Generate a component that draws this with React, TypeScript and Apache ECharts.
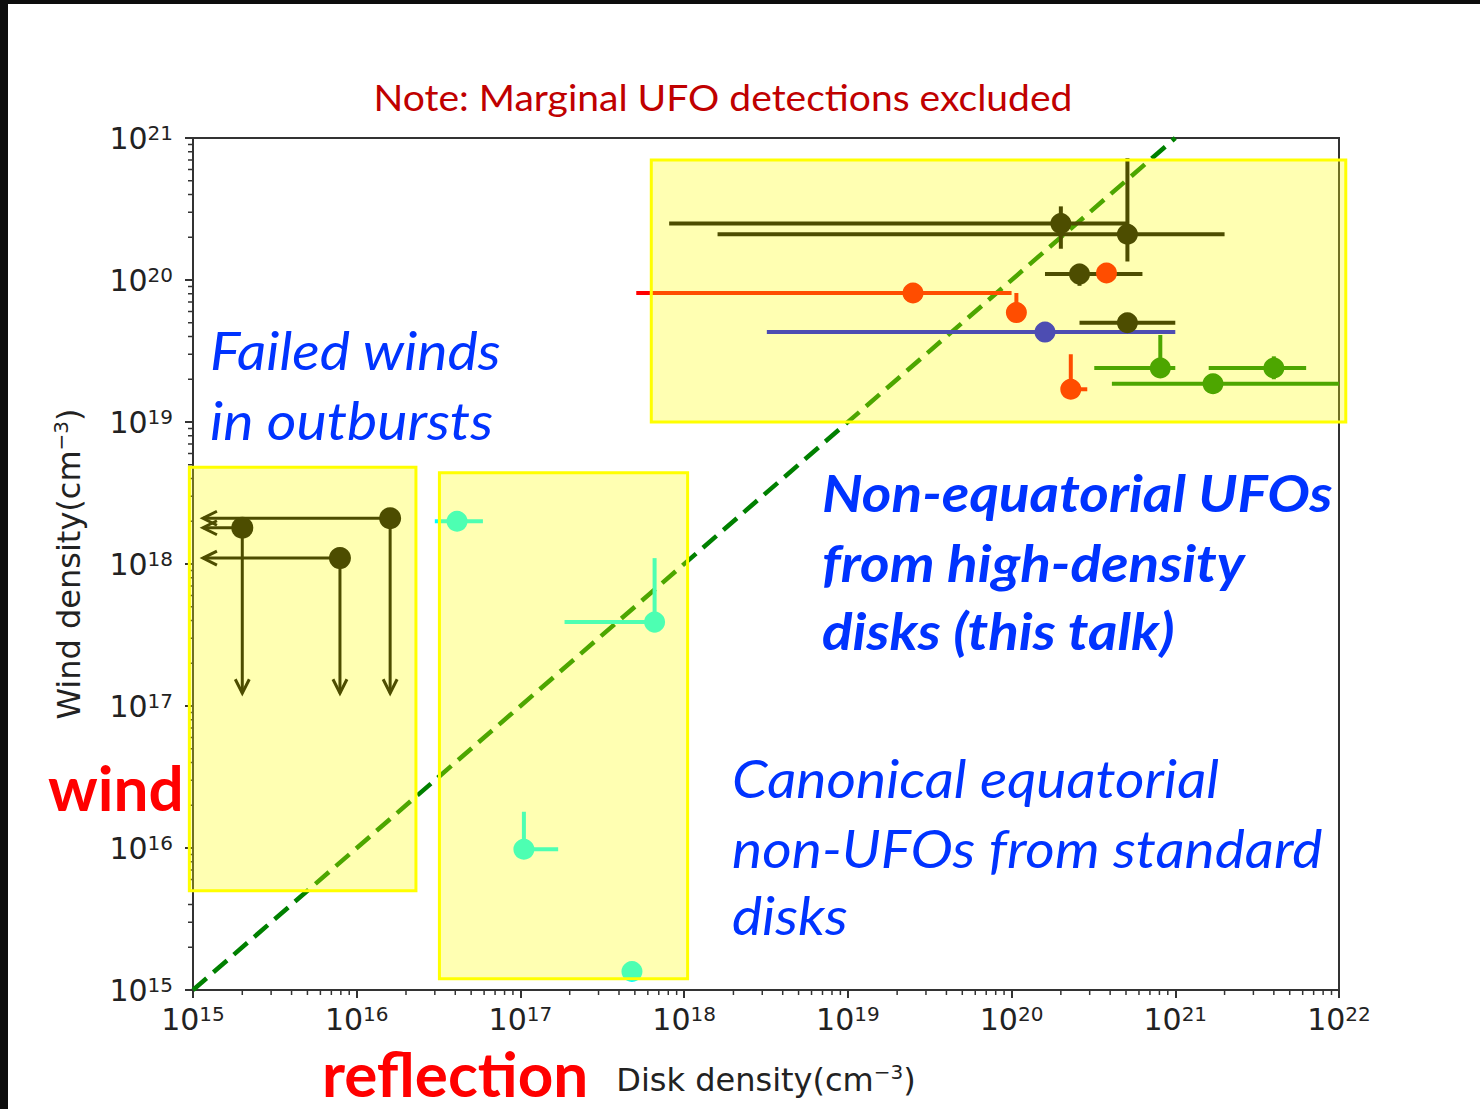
import { useEffect, useRef } from "react";
import * as echarts from "echarts";

// Each measurement: [x, y, xLow, xHigh, yLow, yHigh]  (cm^-3)
const BLACK_PTS = [
  [2.0e20, 2.5e20, 8.1e17, 5.1e20, 1.66e20, 3.3e20],
  [5.1e20, 2.1e20, 1.6e18, 2.0e21, 1.35e20, 7.2e20],
  [2.6e20, 1.1e20, 1.6e20, 6.3e20, 9.1e19, 1.3e20],
  [5.1e20, 5.0e19, 2.6e20, 1.0e21, 5.0e19, 5.0e19],
];
const RED_PTS = [
  [3.8e20, 1.12e20, 3.8e20, 3.8e20, 1.12e20, 1.12e20],
  [2.5e19, 8.1e19, 5.1e17, 1.0e20, 8.1e19, 8.1e19],
  [1.07e20, 5.9e19, 1.07e20, 1.07e20, 5.9e19, 8.1e19],
  [2.3e20, 1.7e19, 2.3e20, 2.9e20, 1.7e19, 3.0e19],
];
const BLUE_PTS = [[1.6e20, 4.3e19, 3.2e18, 1.0e21, 4.3e19, 4.3e19]];
const GREEN_PTS = [
  [8.1e20, 2.4e19, 3.2e20, 1.0e21, 2.4e19, 4.1e19],
  [4.0e21, 2.4e19, 1.6e21, 6.3e21, 2.0e19, 2.9e19],
  [1.7e21, 1.86e19, 4.1e20, 1.0e22, 1.86e19, 1.86e19],
];
const CYAN_PTS = [
  [4.1e16, 2.0e18, 3.0e16, 5.9e16, 2.0e18, 2.0e18],
  [6.6e17, 3.9e17, 1.86e17, 6.6e17, 3.3e17, 1.1e18],
  [1.05e17, 9.8e15, 1.05e17, 1.7e17, 9.8e15, 1.8e16],
  [4.8e17, 1.35e15, 4.8e17, 4.8e17, 1.35e15, 1.35e15],
];
// Upper limits (failed winds): [x, y, xArrowEnd, yArrowEnd]
const LIMIT_PTS = [
  [2.0e15, 1.8e18, 1.15e15, 1.23e17],
  [1.6e16, 2.1e18, 1.15e15, 1.23e17],
  [7.9e15, 1.1e18, 1.15e15, 1.23e17],
];
// Highlighted regions: [xMin, xMax, yMin, yMax]
const REGIONS = [
  [6.3e17, 1.1e22, 1.0e19, 7.0e20],
  [9.5e14, 2.3e16, 5.0e15, 4.8e18],
  [3.2e16, 1.05e18, 1.2e15, 4.4e18],
];
// Wind density = disk density
const EQUALITY = [
  [1e15, 1e15],
  [1e21, 1e21],
];

const X_DECADES = [15, 16, 17, 18, 19, 20, 21];
const Y_DECADES = [15, 16, 17, 18, 19, 20];
const MINOR_MULTS = [2, 3, 4, 5, 6, 7, 8, 9];

const BLUE = "#0033ff";
const RED = "#ff0000";
const TICK_FONT = "DejaVu Sans";
const NOTE_FONT = "Lato";

const minorTicks = (decades: number[]) => {
  const out: number[] = [];
  decades.forEach((d) => MINOR_MULTS.forEach((m) => out.push(m * Math.pow(10, d))));
  return out;
};

const tickLabel = (v: number) => `{b|10}{s|${Math.round(Math.log10(v))}}`;
const tickRich = {
  b: { fontFamily: TICK_FONT, fontSize: 30, color: "#222", lineHeight: 30 },
  s: { fontFamily: TICK_FONT, fontSize: 20, color: "#222", lineHeight: 12, verticalAlign: "top" },
};
const titleRich = {
  n: { fontFamily: TICK_FONT, fontSize: 32, color: "#222", lineHeight: 36 },
  s: { fontFamily: TICK_FONT, fontSize: 20, color: "#222", lineHeight: 18, verticalAlign: "top" },
};

function errorBars(color: string, width: number) {
  return (_p: any, api: any) => {
    const x = api.value(0), y = api.value(1);
    const children: any[] = [];
    const a = api.coord([api.value(2), y]);
    const b = api.coord([api.value(3), y]);
    if (Math.abs(a[0] - b[0]) > 0.5)
      children.push({ type: "line", shape: { x1: a[0], y1: a[1], x2: b[0], y2: b[1] }, style: { stroke: color, lineWidth: width } });
    const c = api.coord([x, api.value(4)]);
    const d = api.coord([x, api.value(5)]);
    if (Math.abs(c[1] - d[1]) > 0.5)
      children.push({ type: "line", shape: { x1: c[0], y1: c[1], x2: d[0], y2: d[1] }, style: { stroke: color, lineWidth: width } });
    return { type: "group", children };
  };
}

function limitArrows(_p: any, api: any) {
  const p = api.coord([api.value(0), api.value(1)]);
  const l = api.coord([api.value(2), api.value(1)]);
  const dn = api.coord([api.value(0), api.value(3)]);
  const st = { stroke: "#000", lineWidth: 3, fill: "none" };
  return {
    type: "group",
    children: [
      { type: "line", shape: { x1: p[0], y1: p[1], x2: l[0], y2: l[1] }, style: st },
      { type: "polyline", shape: { points: [[l[0] + 14, l[1] - 7], [l[0], l[1]], [l[0] + 14, l[1] + 7]] }, style: st },
      { type: "line", shape: { x1: p[0], y1: p[1], x2: dn[0], y2: dn[1] }, style: st },
      { type: "polyline", shape: { points: [[dn[0] - 7, dn[1] - 14], [dn[0], dn[1]], [dn[0] + 7, dn[1] - 14]] }, style: st },
    ],
  };
}

function regionBox(_p: any, api: any) {
  const tl = api.coord([api.value(0), api.value(3)]);
  const br = api.coord([api.value(1), api.value(2)]);
  return {
    type: "rect",
    shape: { x: tl[0], y: tl[1], width: br[0] - tl[0], height: br[1] - tl[1] },
    style: { fill: "rgba(255,255,0,0.3)", stroke: "#ffff00", lineWidth: 3 },
  };
}

function minorTick(isX: boolean) {
  return (_p: any, api: any) => {
    const p = api.coord([api.value(0), api.value(1)]);
    const shape = isX
      ? { x1: p[0], y1: p[1], x2: p[0], y2: p[1] + 5 }
      : { x1: p[0], y1: p[1], x2: p[0] - 5, y2: p[1] };
    return { type: "line", shape, style: { stroke: "#333", lineWidth: 1.5 } };
  };
}

function pointSeries(name: string, data: number[][], color: string, width: number, z = 3) {
  return [
    {
      name: name + "-err",
      type: "custom",
      renderItem: errorBars(color, width),
      data,
      encode: { x: 0, y: 1 },
      clip: false,
      z,
    },
    {
      name,
      type: "scatter",
      data: data.map((d) => [d[0], d[1]]),
      symbol: "circle",
      symbolSize: 21,
      itemStyle: { color, opacity: 1 },
      z: z + 1,
    },
  ];
}

const textEl = (x: number, y: number, text: string, font: any, fill: string, align = "left", scaleX = 1) => ({
  type: "text",
  x,
  y,
  scaleX,
  z: 50,
  style: { text, fill, align, verticalAlign: "middle", ...font },
});

export default function App() {
  const ref = useRef<HTMLDivElement>(null);

  useEffect(() => {
    if (!ref.current) return;
    const chart = echarts.init(ref.current, undefined, { renderer: "svg" });

    const noteItalic = { fontFamily: NOTE_FONT, fontStyle: "italic", fontSize: 52 };
    const noteBoldItalic = { fontFamily: NOTE_FONT, fontStyle: "italic", fontWeight: "bold", fontSize: 52 };
    const redBold = { fontFamily: NOTE_FONT, fontWeight: "bold", fontSize: 62 };

    chart.setOption({
      animation: false,
      backgroundColor: "#ffffff",
      grid: {
        left: 193,
        top: 138,
        width: 1146,
        height: 852,
        show: true,
        borderColor: "#333",
        borderWidth: 2,
        backgroundColor: "transparent",
      },
      xAxis: {
        type: "log",
        logBase: 10,
        min: 1e15,
        max: 1e22,
        splitNumber: 7,
        splitLine: { show: false },
        axisLine: { lineStyle: { color: "#333", width: 2 } },
        axisTick: { show: true, inside: false, length: 8, lineStyle: { color: "#333", width: 2 } },
        axisLabel: { formatter: tickLabel, rich: tickRich, margin: 14 },
        name: "{n|Disk density(cm}{s|−3}{n|)}",
        nameLocation: "middle",
        nameGap: 72,
        nameTextStyle: { rich: titleRich },
      },
      yAxis: {
        type: "log",
        logBase: 10,
        min: 1e15,
        max: 1e21,
        splitNumber: 6,
        splitLine: { show: false },
        axisLine: { lineStyle: { color: "#333", width: 2 } },
        axisTick: { show: true, inside: false, length: 8, lineStyle: { color: "#333", width: 2 } },
        axisLabel: { formatter: tickLabel, rich: tickRich, margin: 20 },
        name: "{n|Wind density(cm}{s|−3}{n|)}",
        nameLocation: "middle",
        nameRotate: 90,
        nameGap: 106,
        nameTextStyle: { rich: titleRich },
      },
      series: [
        {
          type: "custom",
          renderItem: minorTick(true),
          data: minorTicks(X_DECADES).map((v) => [v, 1e15]),
          encode: { x: 0, y: 1 },
          clip: false,
          silent: true,
          z: 1,
        },
        {
          type: "custom",
          renderItem: minorTick(false),
          data: minorTicks(Y_DECADES).map((v) => [1e15, v]),
          encode: { x: 0, y: 1 },
          clip: false,
          silent: true,
          z: 1,
        },
        {
          type: "line",
          data: EQUALITY,
          symbol: "none",
          lineStyle: { color: "#008000", width: 4.5, type: [18, 9] },
          z: 2,
        },
        {
          type: "custom",
          renderItem: limitArrows,
          data: LIMIT_PTS,
          encode: { x: 0, y: 1 },
          clip: false,
          z: 3,
        },
        {
          type: "scatter",
          data: LIMIT_PTS.map((d) => [d[0], d[1]]),
          symbolSize: 22,
          itemStyle: { color: "#000", opacity: 1 },
          z: 4,
        },
        ...pointSeries("red", RED_PTS, RED, 4),
        ...pointSeries("blue", BLUE_PTS, "#0000ff", 4),
        ...pointSeries("black", BLACK_PTS, "#000000", 4),
        ...pointSeries("green", GREEN_PTS, "#008000", 4),
        ...pointSeries("cyan", CYAN_PTS, "#00ffff", 4),
        {
          type: "custom",
          renderItem: regionBox,
          data: REGIONS,
          encode: { x: [0, 1], y: [2, 3] },
          clip: false,
          silent: true,
          z: 20,
        },
      ],
      graphic: [
        { type: "rect", shape: { x: 0, y: 0, width: 1480, height: 4 }, style: { fill: "#0d0d0d" }, z: 60 },
        { type: "rect", shape: { x: 0, y: 0, width: 8, height: 1109 }, style: { fill: "#0d0d0d" }, z: 60 },
        textEl(723, 96, "Note: Marginal UFO detections excluded", { fontFamily: NOTE_FONT, fontSize: 37 }, "#c00000", "center", 1.055),
        textEl(210, 350, "Failed winds", noteItalic, BLUE, "left", 1.1),
        textEl(210, 420, "in outbursts", noteItalic, BLUE, "left", 1.1),
        textEl(822, 492, "Non-equatorial UFOs", noteBoldItalic, BLUE, "left", 1.09),
        textEl(822, 562, "from high-density", noteBoldItalic, BLUE, "left", 1.09),
        textEl(822, 630, "disks (this talk)", noteBoldItalic, BLUE, "left", 1.09),
        textEl(732, 778, "Canonical equatorial", noteItalic, BLUE, "left", 1.095),
        textEl(732, 848, "non-UFOs from standard", noteItalic, BLUE, "left", 1.095),
        textEl(732, 915, "disks", noteItalic, BLUE, "left", 1.095),
        textEl(48, 787, "wind", redBold, RED),
        textEl(322, 1073, "reflection", redBold, RED),
      ],
    });

    return () => chart.dispose();
  }, []);

  return (
    <div
      ref={ref}
      style={{ position: "fixed", left: 0, top: 0, width: 1480, height: 1109, background: "#fff" }}
    />
  );
}
